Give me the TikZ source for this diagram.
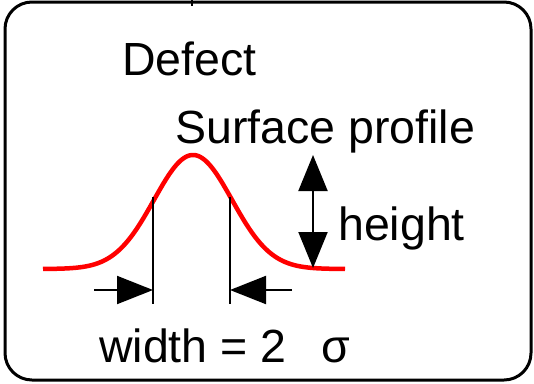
\documentclass[tikz,border=0pt]{standalone}
\usepackage{fontspec}
\setmainfont{Liberation Sans}
\usetikzlibrary{arrows.meta}
\begin{document}
\begin{tikzpicture}[x=1pt,y=-1pt,
  lbl/.style={anchor=base west,inner sep=0pt,font=\fontsize{46.5}{54}\selectfont},
  thinline/.style={line width=2pt},
  bigtip/.style={-{Triangle[length=36pt,width=28pt]}},
  bigtips/.style={{Triangle[length=36pt,width=29pt]}-{Triangle[length=36pt,width=29pt]}}]
\useasboundingbox (0,0) rectangle (534,383);
\draw[line width=3pt,rounded corners=27pt] (5,2) rectangle (531,380);
\draw[thinline] (192,0) -- (192,6);
\node[lbl] (defect) at (122,75) {Defect};
\node[lbl] (surf) at (175,143) {Surface profile};
\node[lbl] (height) at (338,240) {height};
\node[lbl] (width) at (99,362) {width = 2\hspace{35pt}σ};
\draw[red,line width=4.5pt,line join=round] plot[domain=43:345,samples=160] (\x,{269-114*exp(-0.5*((\x-193)/39)^2)});
\coordinate (l1) at (153,197); \coordinate (l2) at (153,304);
\coordinate (r1) at (230,197); \coordinate (r2) at (230,304);
\draw[thinline] (l1) -- (l2);
\draw[thinline] (r1) -- (r2);
\coordinate (la) at (94,290); \coordinate (lt) at (153,290);
\coordinate (ra) at (292,290); \coordinate (rt) at (230,290);
\draw[thinline,bigtip] (la) -- (lt);
\draw[thinline,bigtip] (ra) -- (rt);
\coordinate (ht) at (313,155); \coordinate (hb) at (313,268);
\draw[thinline,bigtips] (ht) -- (hb);
\end{tikzpicture}
\end{document}
